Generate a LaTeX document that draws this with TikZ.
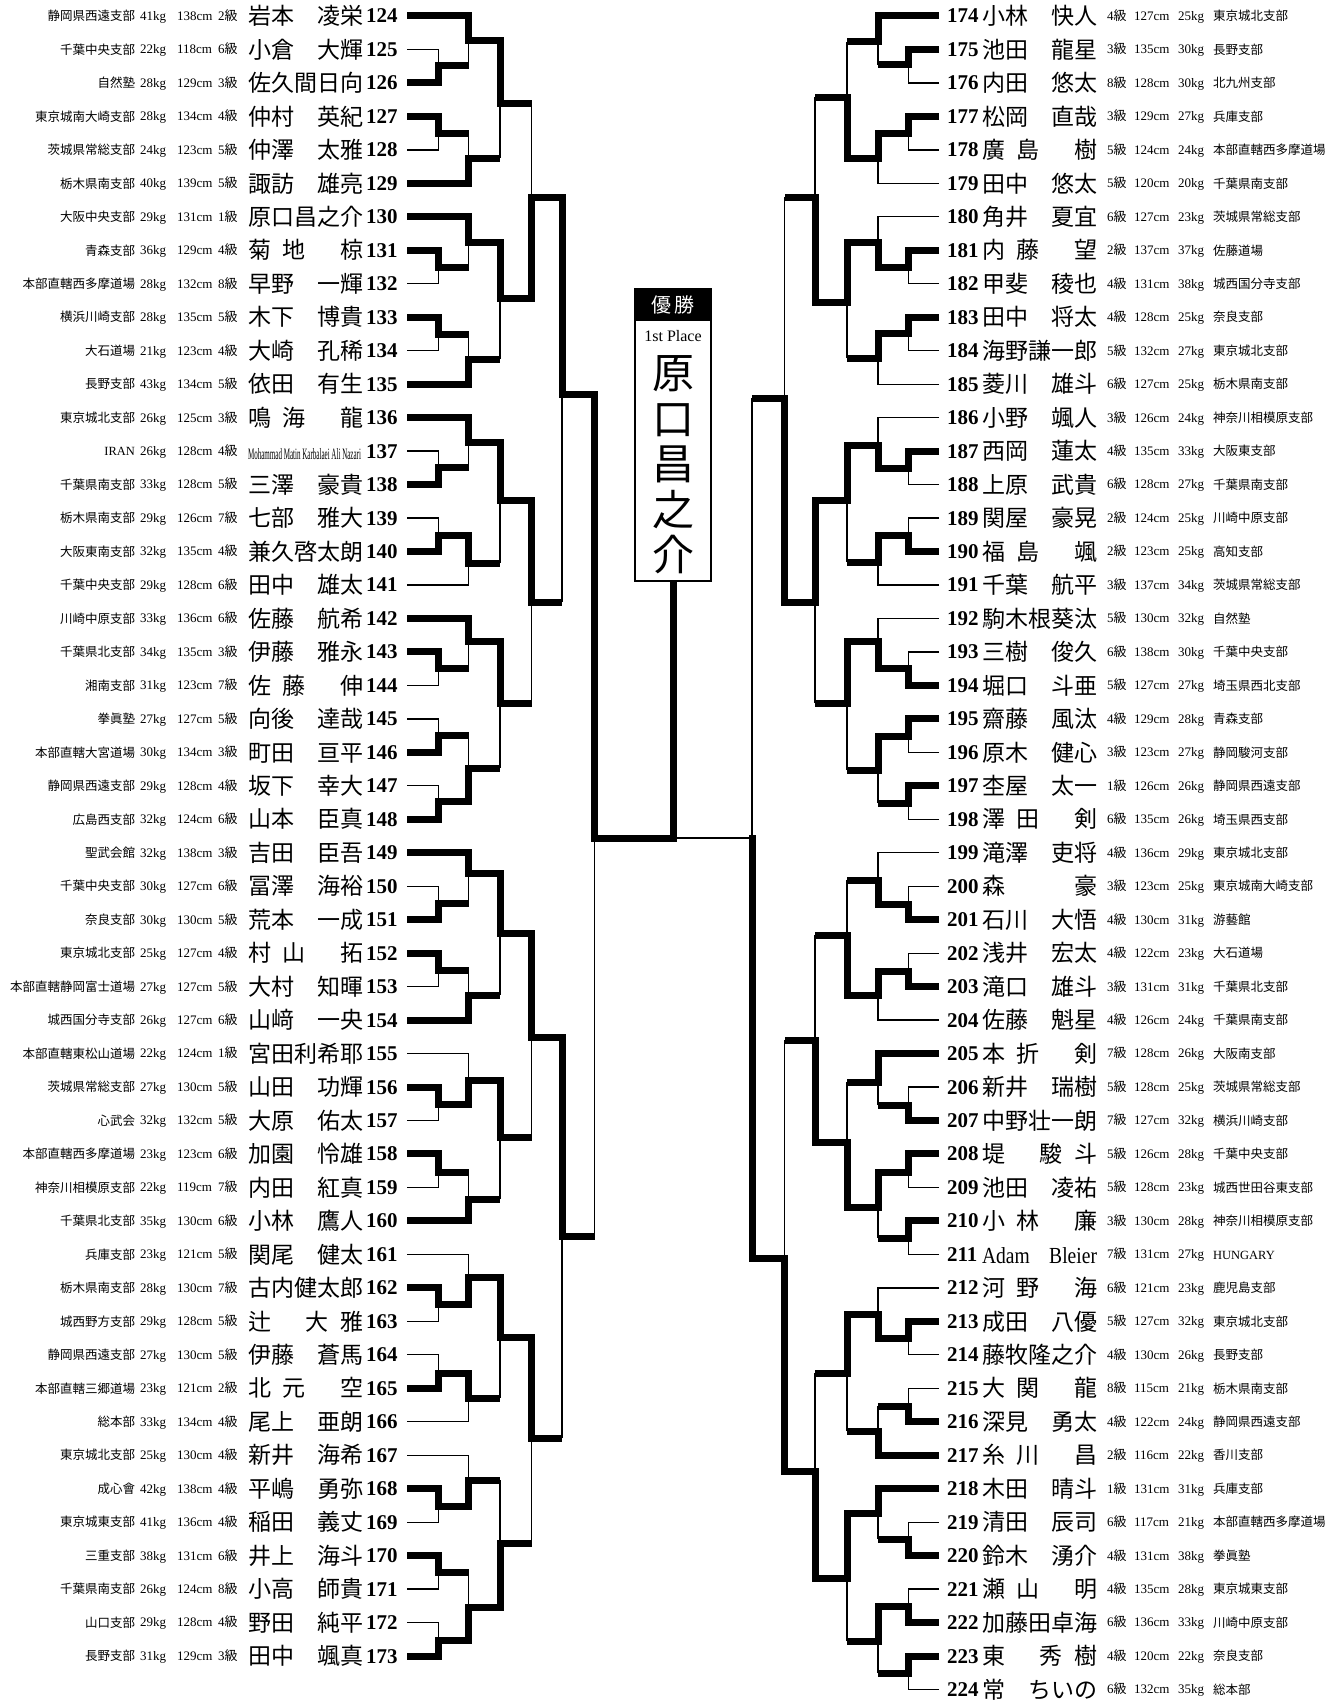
\documentclass[tikz,border=0pt]{standalone}
\usepackage{fontspec}
\usepackage{graphicx}
\setmainfont{Liberation Serif}
\newfontfamily\cjk{Noto Sans CJK JP}
\newcommand\nmg{\hspace{0.5em}}
\newcommand\nmbox[2]{\makebox[115pt][l]{#1\hfill#2}}
\newcommand\mohammad{{\normalfont\resizebox{113pt}{11pt}{Mohammad Matin Karbalaei Ali Nazari}}}
\newcommand\adamA{{\normalfont\scalebox{0.85}[1]{Adam}}}
\newcommand\adamB{{\normalfont\scalebox{0.85}[1]{Bleier}}}
\newcommand\LeafWin[2]{\draw[wline,line cap=butt] (#1) -| (#2);}
\newcommand\LeafLose[2]{\draw[lline] (#1) -| (#2);}
\newcommand\MatchWin[2]{\draw[wline] (#1) -| (#2);}
\newcommand\MatchLose[2]{\draw[wline,shorten >=3.5pt] (#1) -- (#1 -| #2); \draw[lline] (#1 -| #2) -- (#2);}
\tikzset{
  prow/.style={inner sep=0pt, outer sep=0pt, text depth=0pt},
  clubtxt/.style={prow, text height=9.5pt, font=\fontsize{12.5}{13}\selectfont\cjk},
  stat/.style={prow, text height=8.8pt, font=\fontsize{13}{14}\selectfont},
  pname/.style={prow, text height=17.4pt, font=\fontsize{23}{24}\selectfont\cjk},
  pnum/.style={prow, text height=13.9pt, font=\fontsize{21}{22}\selectfont\bfseries},
  wline/.style={line width=7pt, line cap=rect},
  lline/.style={line width=1.3pt},
}
\begin{document}
\begin{tikzpicture}[x=1pt,y=-1pt]
\useasboundingbox (0,0) rectangle (1337,1702);
\fill[white] (0,0) rectangle (1337,1702);
% ---------------- left entries ----------------
\foreach \vn/\vclub/\vkg/\vcm/\vgr/\vna/\vnb [count=\i from 0] in {
124/静岡県西遠支部/41/138/2/岩本/凌栄,
125/千葉中央支部/22/118/6/小倉/大輝,
126/自然塾/28/129/3/佐久間日向/{},
127/東京城南大崎支部/28/134/4/仲村/英紀,
128/茨城県常総支部/24/123/5/仲澤/太雅,
129/栃木県南支部/40/139/5/諏訪/雄亮,
130/大阪中央支部/29/131/1/原口昌之介/{},
131/青森支部/36/129/4/{菊\nmg 地}/椋,
132/本部直轄西多摩道場/28/132/8/早野/一輝,
133/横浜川崎支部/28/135/5/木下/博貴,
134/大石道場/21/123/4/大崎/孔稀,
135/長野支部/43/134/5/依田/有生,
136/東京城北支部/26/125/3/{鳴\nmg 海}/龍,
137/{\normalfont IRAN}/26/128/4/\mohammad/{},
138/千葉県南支部/33/128/5/三澤/豪貴,
139/栃木県南支部/29/126/7/七部/雅大,
140/大阪東南支部/32/135/4/兼久啓太朗/{},
141/千葉中央支部/29/128/6/田中/雄太,
142/川崎中原支部/33/136/6/佐藤/航希,
143/千葉県北支部/34/135/3/伊藤/雅永,
144/湘南支部/31/123/7/{佐\nmg 藤}/伸,
145/拳眞塾/27/127/5/向後/達哉,
146/本部直轄大宮道場/30/134/3/町田/亘平,
147/静岡県西遠支部/29/128/4/坂下/幸大,
148/広島西支部/32/124/6/山本/臣真,
149/聖武会館/32/138/3/吉田/臣吾,
150/千葉中央支部/30/127/6/冨澤/海裕,
151/奈良支部/30/130/5/荒本/一成,
152/東京城北支部/25/127/4/{村\nmg 山}/拓,
153/本部直轄静岡富士道場/27/127/5/大村/知暉,
154/城西国分寺支部/26/127/6/山﨑/一央,
155/本部直轄東松山道場/22/124/1/宮田利希耶/{},
156/茨城県常総支部/27/130/5/山田/功輝,
157/心武会/32/132/5/大原/佑太,
158/本部直轄西多摩道場/23/123/6/加園/怜雄,
159/神奈川相模原支部/22/119/7/内田/紅真,
160/千葉県北支部/35/130/6/小林/鷹人,
161/兵庫支部/23/121/5/関尾/健太,
162/栃木県南支部/28/130/7/古内健太郎/{},
163/城西野方支部/29/128/5/辻/{大\nmg 雅},
164/静岡県西遠支部/27/130/5/伊藤/蒼馬,
165/本部直轄三郷道場/23/121/2/{北\nmg 元}/空,
166/総本部/33/134/4/尾上/亜朗,
167/東京城北支部/25/130/4/新井/海希,
168/成心會/42/138/4/平嶋/勇弥,
169/東京城東支部/41/136/4/稲田/義丈,
170/三重支部/38/131/6/井上/海斗,
171/千葉県南支部/26/124/8/小高/師貴,
172/山口支部/29/128/4/野田/純平,
173/長野支部/31/129/3/田中/颯真}{
  \pgfmathsetmacro\yy{16+33.47*\i}
  \coordinate (l\vn) at (407,\yy);
  \node[clubtxt,anchor=east] (cl\vn) at (135,\yy) {\vclub};
  \node[stat,anchor=west] (kg\vn) at (140,\yy) {\vkg kg};
  \node[stat,anchor=west] (cm\vn) at (177,\yy) {\vcm cm};
  \node[stat,anchor=west] (gr\vn) at (218,\yy) {\vgr{\cjk 級}};
  \node[pname,anchor=west] (nm\vn) at (248,\yy) {\nmbox{\vna}{\vnb}};
  \node[pnum,anchor=west] (no\vn) at (366,\yy) {\vn};
}
% ---------------- right entries ----------------
\foreach \vn/\vclub/\vkg/\vcm/\vgr/\vna/\vnb [count=\i from 0] in {
174/東京城北支部/25/127/4/小林/快人,
175/長野支部/30/135/3/池田/龍星,
176/北九州支部/30/128/8/内田/悠太,
177/兵庫支部/27/129/3/松岡/直哉,
178/本部直轄西多摩道場/24/124/5/{廣\nmg 島}/樹,
179/千葉県南支部/20/120/5/田中/悠太,
180/茨城県常総支部/23/127/6/角井/夏宜,
181/佐藤道場/37/137/2/{内\nmg 藤}/望,
182/城西国分寺支部/38/131/4/甲斐/稜也,
183/奈良支部/25/128/4/田中/将太,
184/東京城北支部/27/132/5/海野謙一郎/{},
185/栃木県南支部/25/127/6/菱川/雄斗,
186/神奈川相模原支部/24/126/3/小野/颯人,
187/大阪東支部/33/135/4/西岡/蓮太,
188/千葉県南支部/27/128/6/上原/武貴,
189/川崎中原支部/25/124/2/関屋/豪晃,
190/高知支部/25/123/2/{福\nmg 島}/颯,
191/茨城県常総支部/34/137/3/千葉/航平,
192/自然塾/32/130/5/駒木根葵汰/{},
193/千葉中央支部/30/138/6/三樹/俊久,
194/埼玉県西北支部/27/127/5/堀口/斗亜,
195/青森支部/28/129/4/齋藤/風汰,
196/静岡駿河支部/27/123/3/原木/健心,
197/静岡県西遠支部/26/126/1/杢屋/太一,
198/埼玉県西支部/26/135/6/{澤\nmg 田}/剣,
199/東京城北支部/29/136/4/滝澤/吏将,
200/東京城南大崎支部/25/123/3/森/豪,
201/游藝館/31/130/4/石川/大悟,
202/大石道場/23/122/4/浅井/宏太,
203/千葉県北支部/31/131/3/滝口/雄斗,
204/千葉県南支部/24/126/4/佐藤/魁星,
205/大阪南支部/26/128/7/{本\nmg 折}/剣,
206/茨城県常総支部/25/128/5/新井/瑞樹,
207/横浜川崎支部/32/127/7/中野壮一朗/{},
208/千葉中央支部/28/126/5/堤/{駿\nmg 斗},
209/城西世田谷東支部/23/128/5/池田/凌祐,
210/神奈川相模原支部/28/130/3/{小\nmg 林}/廉,
211/{\normalfont HUNGARY}/27/131/7/\adamA/\adamB,
212/鹿児島支部/23/121/6/{河\nmg 野}/海,
213/東京城北支部/32/127/5/成田/八優,
214/長野支部/26/130/4/藤牧隆之介/{},
215/栃木県南支部/21/115/8/{大\nmg 関}/龍,
216/静岡県西遠支部/24/122/4/深見/勇太,
217/香川支部/22/116/2/{糸\nmg 川}/昌,
218/兵庫支部/31/131/1/木田/晴斗,
219/本部直轄西多摩道場/21/117/6/清田/辰司,
220/拳眞塾/38/131/4/鈴木/湧介,
221/東京城東支部/28/135/4/{瀬\nmg 山}/明,
222/川崎中原支部/33/136/6/加藤田卓海/{},
223/奈良支部/22/120/4/東/{秀\nmg 樹},
224/総本部/35/132/6/常/ちいの}{
  \pgfmathsetmacro\yy{16+33.47*\i}
  \coordinate (l\vn) at (939,\yy);
  \node[pnum,anchor=west] (no\vn) at (947,\yy) {\vn};
  \node[pname,anchor=west] (nm\vn) at (982,\yy) {\nmbox{\vna}{\vnb}};
  \node[stat,anchor=west] (gr\vn) at (1107,\yy) {\vgr{\cjk 級}};
  \node[stat,anchor=west] (cm\vn) at (1134,\yy) {\vcm cm};
  \node[stat,anchor=west] (kg\vn) at (1178,\yy) {\vkg kg};
  \node[clubtxt,anchor=west] (cl\vn) at (1213,\yy) {\vclub};
}
% ---------------- left match points ----------------
\def\ca{438.5}\def\cb{468.5}\def\cc{500}\def\cd{531.5}\def\ce{562}\def\cf{594.5}
\coordinate (A1) at (\ca,66);  \coordinate (A2) at (\cb,41);  \coordinate (A3) at (\ca,133);
\coordinate (A4) at (\cb,158); \coordinate (A5) at (\cc,103);
\coordinate (B1) at (\ca,267); \coordinate (B2) at (\cb,242); \coordinate (B3) at (\ca,334);
\coordinate (B4) at (\cb,359); \coordinate (B5) at (\cc,298);
\coordinate (Q1) at (\cd,197);
\coordinate (C1) at (\ca,467); \coordinate (C2) at (\cb,442); \coordinate (C3) at (\ca,535);
\coordinate (C4) at (\cb,563); \coordinate (C5) at (\cc,500);
\coordinate (D1) at (\ca,668); \coordinate (D2) at (\cb,641); \coordinate (D3) at (\ca,735);
\coordinate (D4) at (\ca,801); \coordinate (D5) at (\cb,768); \coordinate (D6) at (\cc,703);
\coordinate (Q2) at (\cd,602);
\coordinate (H1) at (\ce,394);
\coordinate (E1) at (\ca,903); \coordinate (E2) at (\cb,873); \coordinate (E3) at (\ca,970);
\coordinate (E4) at (\cb,995); \coordinate (E5) at (\cc,933);
\coordinate (F1) at (\ca,1104); \coordinate (F2) at (\cb,1080); \coordinate (F3) at (\ca,1172);
\coordinate (F4) at (\cb,1199); \coordinate (F5) at (\cc,1137);
\coordinate (Q3) at (\cd,1037);
\coordinate (G1) at (\ca,1304); \coordinate (G2) at (\cb,1277); \coordinate (G3) at (\ca,1373);
\coordinate (G4) at (\cb,1398); \coordinate (G5) at (\cc,1337);
\coordinate (K1) at (\ca,1506); \coordinate (K2) at (\cb,1480); \coordinate (K3) at (\ca,1572);
\coordinate (K4) at (\ca,1640); \coordinate (K5) at (\cb,1607); \coordinate (K6) at (\cc,1543);
\coordinate (Q4) at (\cd,1438);
\coordinate (H2) at (\ce,1236);
\coordinate (S1) at (\cf,838);
% ---------------- right match points ----------------
\def\ra{908.5}\def\rb{878}\def\rc{847}\def\rd{815}\def\re{784.5}\def\rf{752}
\coordinate (Ra1) at (\ra,65);  \coordinate (Ra2) at (\rb,42);  \coordinate (Ra3) at (\ra,133);
\coordinate (Ra4) at (\rb,158); \coordinate (Ra5) at (\rc,97);
\coordinate (Rb1) at (\ra,267); \coordinate (Rb2) at (\rb,242); \coordinate (Rb3) at (\ra,333);
\coordinate (Rb4) at (\rb,358); \coordinate (Rb5) at (\rc,302);
\coordinate (Rq1) at (\rd,197);
\coordinate (Rc1) at (\ra,468); \coordinate (Rc2) at (\rb,445); \coordinate (Rc3) at (\ra,535);
\coordinate (Rc4) at (\rb,562); \coordinate (Rc5) at (\rc,500);
\coordinate (Rd1) at (\ra,668); \coordinate (Rd2) at (\rb,641); \coordinate (Rd3) at (\ra,736);
\coordinate (Rd4) at (\ra,803); \coordinate (Rd5) at (\rb,770); \coordinate (Rd6) at (\rc,703);
\coordinate (Rq2) at (\rd,602);
\coordinate (Rh1) at (\re,398);
\coordinate (Re1) at (\ra,904); \coordinate (Re2) at (\rb,880); \coordinate (Re3) at (\ra,971);
\coordinate (Re4) at (\rb,995); \coordinate (Re5) at (\rc,935);
\coordinate (Rf1) at (\ra,1105); \coordinate (Rf2) at (\rb,1082); \coordinate (Rf3) at (\ra,1172);
\coordinate (Rf4) at (\ra,1238); \coordinate (Rf5) at (\rb,1207); \coordinate (Rf6) at (\rc,1142);
\coordinate (Rq3) at (\rd,1040);
\coordinate (Rg1) at (\ra,1338); \coordinate (Rg2) at (\rb,1314); \coordinate (Rg3) at (\ra,1406);
\coordinate (Rg4) at (\rb,1431); \coordinate (Rg5) at (\rc,1373);
\coordinate (Rk1) at (\ra,1539); \coordinate (Rk2) at (\rb,1513); \coordinate (Rk3) at (\ra,1606);
\coordinate (Rk4) at (\ra,1673); \coordinate (Rk5) at (\rb,1641); \coordinate (Rk6) at (\rc,1578);
\coordinate (Rq4) at (\rd,1471);
\coordinate (Rh2) at (\re,1258);
\coordinate (Rs1) at (\rf,838);
% ---------------- left bracket ----------------
\LeafLose{l125}{A1} \LeafWin{l126}{A1}
\LeafWin{l124}{A2} \MatchLose{A1}{A2}
\LeafWin{l127}{A3} \LeafLose{l128}{A3}
\MatchLose{A3}{A4} \LeafWin{l129}{A4}
\MatchWin{A2}{A5} \MatchLose{A4}{A5}
\LeafWin{l131}{B1} \LeafLose{l132}{B1}
\LeafWin{l130}{B2} \MatchLose{B1}{B2}
\LeafWin{l133}{B3} \LeafLose{l134}{B3}
\MatchLose{B3}{B4} \LeafWin{l135}{B4}
\MatchWin{B2}{B5} \MatchLose{B4}{B5}
\MatchLose{A5}{Q1} \MatchWin{B5}{Q1}
\LeafLose{l137}{C1} \LeafWin{l138}{C1}
\LeafWin{l136}{C2} \MatchLose{C1}{C2}
\LeafLose{l139}{C3} \LeafWin{l140}{C3}
\MatchWin{C3}{C4} \LeafLose{l141}{C4}
\MatchWin{C2}{C5} \MatchLose{C4}{C5}
\LeafWin{l143}{D1} \LeafLose{l144}{D1}
\LeafWin{l142}{D2} \MatchLose{D1}{D2}
\LeafLose{l145}{D3} \LeafWin{l146}{D3}
\LeafLose{l147}{D4} \LeafWin{l148}{D4}
\MatchLose{D3}{D5} \MatchWin{D4}{D5}
\MatchWin{D2}{D6} \MatchLose{D5}{D6}
\MatchWin{C5}{Q2} \MatchLose{D6}{Q2}
\MatchWin{Q1}{H1} \MatchLose{Q2}{H1}
\LeafLose{l150}{E1} \LeafWin{l151}{E1}
\LeafWin{l149}{E2} \MatchLose{E1}{E2}
\LeafWin{l152}{E3} \LeafLose{l153}{E3}
\MatchLose{E3}{E4} \LeafWin{l154}{E4}
\MatchWin{E2}{E5} \MatchLose{E4}{E5}
\LeafWin{l156}{F1} \LeafLose{l157}{F1}
\LeafLose{l155}{F2} \MatchWin{F1}{F2}
\LeafWin{l158}{F3} \LeafLose{l159}{F3}
\MatchLose{F3}{F4} \LeafWin{l160}{F4}
\MatchWin{F2}{F5} \MatchLose{F4}{F5}
\MatchWin{E5}{Q3} \MatchLose{F5}{Q3}
\LeafWin{l162}{G1} \LeafLose{l163}{G1}
\LeafLose{l161}{G2} \MatchWin{G1}{G2}
\LeafLose{l164}{G3} \LeafWin{l165}{G3}
\MatchWin{G3}{G4} \LeafLose{l166}{G4}
\MatchWin{G2}{G5} \MatchLose{G4}{G5}
\LeafWin{l168}{K1} \LeafLose{l169}{K1}
\LeafLose{l167}{K2} \MatchWin{K1}{K2}
\LeafWin{l170}{K3} \LeafLose{l171}{K3}
\LeafLose{l172}{K4} \LeafWin{l173}{K4}
\MatchLose{K3}{K5} \MatchWin{K4}{K5}
\MatchLose{K2}{K6} \MatchWin{K5}{K6}
\MatchWin{G5}{Q4} \MatchLose{K6}{Q4}
\MatchWin{Q3}{H2} \MatchLose{Q4}{H2}
\MatchWin{H1}{S1} \MatchLose{H2}{S1}
% ---------------- right bracket ----------------
\LeafWin{l175}{Ra1} \LeafLose{l176}{Ra1}
\LeafWin{l174}{Ra2} \MatchLose{Ra1}{Ra2}
\LeafWin{l177}{Ra3} \LeafLose{l178}{Ra3}
\MatchWin{Ra3}{Ra4} \LeafLose{l179}{Ra4}
\MatchLose{Ra2}{Ra5} \MatchWin{Ra4}{Ra5}
\LeafWin{l181}{Rb1} \LeafLose{l182}{Rb1}
\LeafLose{l180}{Rb2} \MatchWin{Rb1}{Rb2}
\LeafWin{l183}{Rb3} \LeafLose{l184}{Rb3}
\MatchWin{Rb3}{Rb4} \LeafLose{l185}{Rb4}
\MatchWin{Rb2}{Rb5} \MatchLose{Rb4}{Rb5}
\MatchLose{Ra5}{Rq1} \MatchWin{Rb5}{Rq1}
\LeafWin{l187}{Rc1} \LeafLose{l188}{Rc1}
\LeafLose{l186}{Rc2} \MatchWin{Rc1}{Rc2}
\LeafLose{l189}{Rc3} \LeafWin{l190}{Rc3}
\MatchWin{Rc3}{Rc4} \LeafLose{l191}{Rc4}
\MatchWin{Rc2}{Rc5} \MatchLose{Rc4}{Rc5}
\LeafLose{l193}{Rd1} \LeafWin{l194}{Rd1}
\LeafLose{l192}{Rd2} \MatchWin{Rd1}{Rd2}
\LeafWin{l195}{Rd3} \LeafLose{l196}{Rd3}
\LeafWin{l197}{Rd4} \LeafLose{l198}{Rd4}
\MatchWin{Rd3}{Rd5} \MatchLose{Rd4}{Rd5}
\MatchWin{Rd2}{Rd6} \MatchLose{Rd5}{Rd6}
\MatchWin{Rc5}{Rq2} \MatchLose{Rd6}{Rq2}
\MatchLose{Rq1}{Rh1} \MatchWin{Rq2}{Rh1}
\LeafLose{l200}{Re1} \LeafWin{l201}{Re1}
\LeafLose{l199}{Re2} \MatchWin{Re1}{Re2}
\LeafLose{l202}{Re3} \LeafWin{l203}{Re3}
\MatchWin{Re3}{Re4} \LeafLose{l204}{Re4}
\MatchLose{Re2}{Re5} \MatchWin{Re4}{Re5}
\LeafLose{l206}{Rf1} \LeafWin{l207}{Rf1}
\LeafWin{l205}{Rf2} \MatchLose{Rf1}{Rf2}
\LeafWin{l208}{Rf3} \LeafLose{l209}{Rf3}
\LeafWin{l210}{Rf4} \LeafLose{l211}{Rf4}
\MatchWin{Rf3}{Rf5} \MatchLose{Rf4}{Rf5}
\MatchLose{Rf2}{Rf6} \MatchWin{Rf5}{Rf6}
\MatchLose{Re5}{Rq3} \MatchWin{Rf6}{Rq3}
\LeafWin{l213}{Rg1} \LeafLose{l214}{Rg1}
\LeafLose{l212}{Rg2} \MatchWin{Rg1}{Rg2}
\LeafLose{l215}{Rg3} \LeafWin{l216}{Rg3}
\MatchLose{Rg3}{Rg4} \LeafWin{l217}{Rg4}
\MatchWin{Rg2}{Rg5} \MatchLose{Rg4}{Rg5}
\LeafLose{l219}{Rk1} \LeafWin{l220}{Rk1}
\LeafWin{l218}{Rk2} \MatchLose{Rk1}{Rk2}
\LeafLose{l221}{Rk3} \LeafWin{l222}{Rk3}
\LeafWin{l223}{Rk4} \LeafLose{l224}{Rk4}
\MatchWin{Rk3}{Rk5} \MatchLose{Rk4}{Rk5}
\MatchWin{Rk2}{Rk6} \MatchLose{Rk5}{Rk6}
\MatchLose{Rg5}{Rq4} \MatchWin{Rk6}{Rq4}
\MatchLose{Rq3}{Rh2} \MatchWin{Rq4}{Rh2}
\MatchLose{Rh1}{Rs1} \MatchWin{Rh2}{Rs1}
% ---------------- champion box ----------------
\coordinate (boxbot) at (673,581);
\draw[wline] (S1) -| (boxbot);
\draw[lline] (Rs1) -- (Rs1 -| boxbot);
\node[draw, line width=2.5pt, fill=white, minimum width=76pt, minimum height=292pt, inner sep=0pt] (champ) at (673,435) {};
\node[fill=black, minimum width=76pt, minimum height=33pt, inner sep=0pt, anchor=north, text=white, font=\fontsize{20}{20}\selectfont\cjk] (hdr) at (champ.north) {優\hspace{3pt}勝};
\node[inner sep=0pt, font=\fontsize{16}{16}\selectfont] (place) at (673,336) {1st Place};
\node[inner sep=0pt, align=center, font=\fontsize{42}{45.5}\selectfont\cjk] (winner) at (673,465) {原\\口\\昌\\之\\介};
\end{tikzpicture}
\end{document}
